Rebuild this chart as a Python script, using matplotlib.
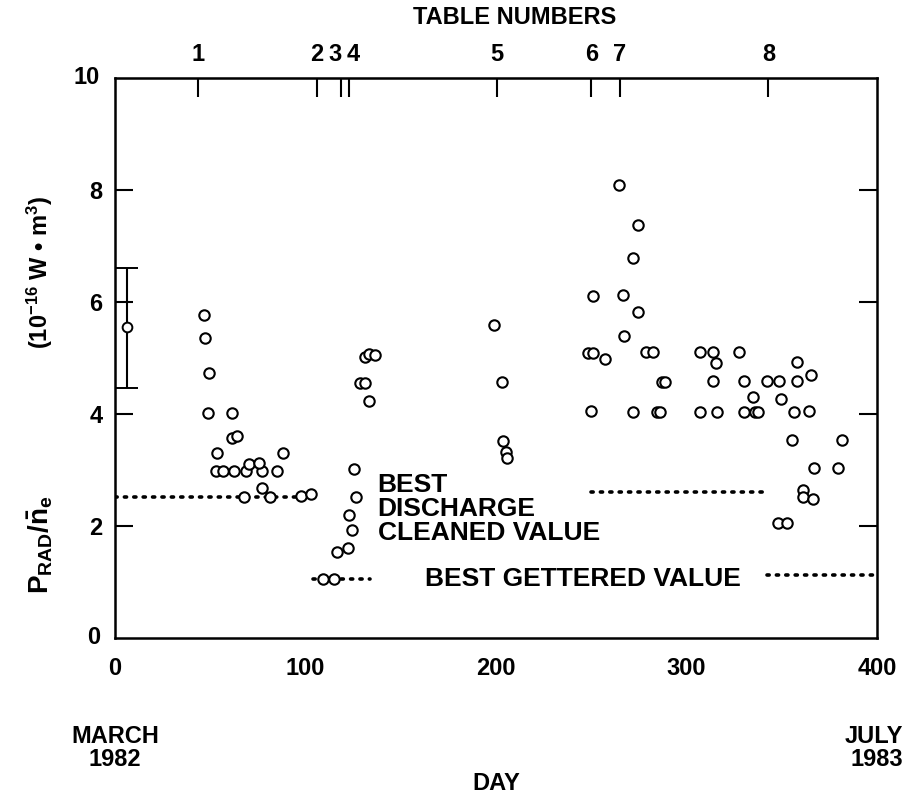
import numpy as np
import matplotlib
matplotlib.use("Agg")
import matplotlib.pyplot as plt

plt.rcParams['font.family'] = ['Liberation Sans', 'DejaVu Sans']
plt.rcParams['font.weight'] = 'bold'
plt.rcParams['mathtext.fontset'] = 'custom'
plt.rcParams['mathtext.rm'] = 'Liberation Sans:bold'
plt.rcParams['mathtext.it'] = 'Liberation Sans:bold'
plt.rcParams['mathtext.bf'] = 'Liberation Sans:bold'

# --- data ---
day = [
    46.9, 47.2, 49.3, 48.6, 61.6, 61.2, 63.8, 53.7, 88.4,
    52.8, 56.8, 62.5, 68.6, 77.0, 84.9, 70.5, 75.7, 77.3, 67.7, 81.4, 97.6, 102.7,
    109, 115, 116.7, 122.5, 124.4, 123.0, 126.3, 125.5,
    128.5, 131.0, 133.5, 131.0, 133.5, 136.5,
    199.2, 203.4, 203.9, 205.0, 206.0,
    248.5, 251.0, 249.8, 251.0, 257.2, 264.7, 266.8, 267.2, 271.7, 274.5, 274.5,
    271.7, 278.7, 282.3, 284.3, 286.1, 286.9, 288.5,
    307.3, 314.1, 327.5, 315.5, 314.1, 330.2, 335.0, 307.1, 316.0, 330.1, 336.0, 337.4,
    342.1, 348.7, 349.6, 357.8, 358.1, 365.2, 356.4, 364.5, 355.2, 381.4,
    366.9, 379.3, 361.0, 361.3, 366.5, 348.0, 353.0,
]
prad = [
    5.77, 5.36, 4.73, 4.02, 4.02, 3.58, 3.61, 3.30, 3.30,
    2.99, 2.99, 2.99, 2.99, 2.99, 2.99, 3.10, 3.12, 2.67, 2.51, 2.51, 2.54, 2.58,
    1.05, 1.05, 1.53, 1.60, 1.92, 2.20, 2.51, 3.02,
    4.56, 4.56, 4.24, 5.02, 5.08, 5.06,
    5.59, 4.57, 3.52, 3.32, 3.21,
    5.09, 5.09, 4.05, 6.11, 4.99, 8.09, 6.12, 5.39, 6.79, 7.38, 5.83,
    4.04, 5.10, 5.10, 4.04, 4.04, 4.58, 4.58,
    5.10, 5.10, 5.11, 4.91, 4.59, 4.59, 4.31, 4.04, 4.04, 4.04, 4.04, 4.04,
    4.59, 4.59, 4.27, 4.92, 4.59, 4.69, 4.04, 4.06, 3.53, 3.53,
    3.04, 3.04, 2.65, 2.52, 2.49, 2.05, 2.05,
]

# single point with error bar (start of run)
err_day = [6.5]
err_val = [5.55]
err_lo = [4.47]
err_hi = [6.60]

# reference levels: (start day, end day, level)
discharge_cleaned = [(0, 102, 2.52), (250, 341, 2.60)]
gettered = [(104, 134, 1.06), (342, 400, 1.12)]

table_days = [43.7, 106, 118.4, 123, 200.5, 250, 265, 343]
table_labels = ['1', '2', '3', '4', '5', '6', '7', '8']
# label positions nudged apart where the ticks crowd together
table_label_days = [43.7, 106, 115.5, 125.0, 200.5, 250, 265, 343]

# --- figure ---
fig = plt.figure(figsize=(9.06, 7.94), dpi=100)
ax = fig.add_axes([115/906, 1-638/794, 762/906, 560/794])

for x0, x1, lev in discharge_cleaned + gettered:
    ax.plot([x0, x1], [lev, lev], color='black', lw=2.6,
            linestyle=(0, (0.6, 2.0)), dash_capstyle='round', zorder=2)

ax.plot(day, prad, 'o', mfc='white', mec='black', ms=7.5, mew=1.5,
        linestyle='none', zorder=3)

yerr = [[v - lo for v, lo in zip(err_val, err_lo)],
        [hi - v for v, hi in zip(err_val, err_hi)]]
ax.errorbar(err_day, err_val, yerr=yerr, fmt='o', mfc='white', mec='black',
            ms=7, mew=1.4, ecolor='black', elinewidth=1.5, capsize=8,
            capthick=1.5, zorder=3)

ax.set_xlim(0, 400)
ax.set_ylim(0, 10)
ax.set_xticks([0, 100, 200, 300, 400])
ax.tick_params(axis='x', bottom=True, length=0, pad=14, labelsize=17)
ax.set_yticks([2, 4, 6, 8])
ax.tick_params(axis='y', left=True, right=True, direction='in', length=13,
               width=1.5, pad=9, labelsize=17)
# 0 and 10 labels without inner tick marks
for v in (0, 10):
    ax.text(-0.02, v, str(v), transform=ax.get_yaxis_transform(),
            ha='right', va='center', fontsize=17, fontweight='bold')

for s in ax.spines.values():
    s.set_linewidth(1.8)

top = ax.secondary_xaxis('top')
top.set_xticks(table_days)
top.set_xticklabels([])
top.tick_params(direction='in', length=14, width=1.5)
for d, lab in zip(table_label_days, table_labels):
    ax.text(d, 10.42, lab, ha='center', va='center', fontsize=17,
            fontweight='bold')

ax.text(137.8, 2.30, "BEST\nDISCHARGE\nCLEANED VALUE", ha='left', va='center',
        fontsize=19, fontweight='bold', linespacing=1.0)
ax.text(162.7, 1.05, "BEST GETTERED VALUE", ha='left', va='center',
        fontsize=19, fontweight='bold')

fig.text(515/906, 1-18/794, "TABLE NUMBERS", ha='center', va='center',
         fontsize=17, fontweight='bold')
fig.text(40/906, 1-545/794, r"$P_{RAD}/\bar{n}_e$",
         rotation=90, ha='center', va='center', fontsize=20, fontweight='bold')
fig.text(40/906, 1-272/794, r"(10$^{-16}$ W • m$^3$)",
         rotation=90, ha='center', va='center', fontsize=17, fontweight='bold')
fig.text(115/906, 1-748/794, "MARCH\n1982", ha='center', va='center',
         fontsize=17, fontweight='bold', linespacing=1.0)
fig.text(903/906, 1-748/794, "JULY\n1983", ha='right', va='center',
         fontsize=17, fontweight='bold', linespacing=1.0, multialignment='right')
fig.text(496/906, 1-783/794, "DAY", ha='center', va='center',
         fontsize=17, fontweight='bold')

fig.savefig("out.png", dpi=100)
